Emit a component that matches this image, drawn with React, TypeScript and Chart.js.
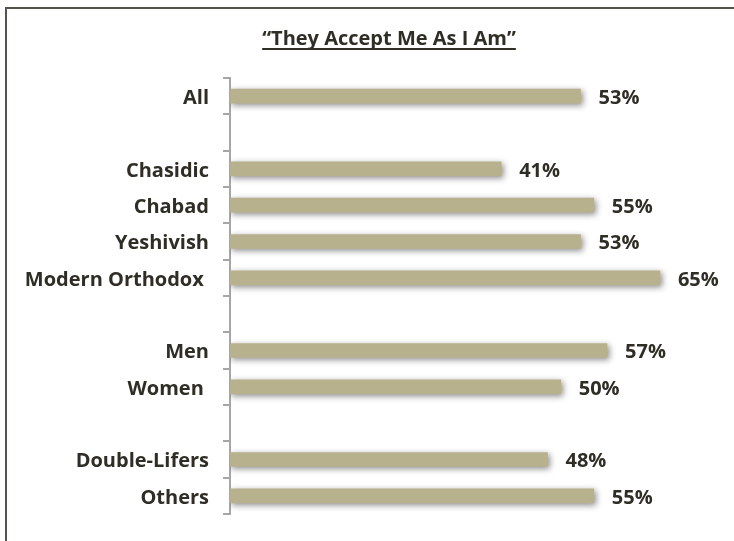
import React, { useEffect, useRef } from "react";
import { Chart, registerables } from "chart.js";

Chart.register(...registerables);

const TITLE = "\u201CThey Accept Me As I Am\u201D";
const categories = [
  "All",
  "",
  "Chasidic",
  "Chabad",
  "Yeshivish",
  "Modern Orthodox ",
  "",
  "Men",
  "Women ",
  "",
  "Double-Lifers",
  "Others",
];
const values: (number | null)[] = [53, null, 41, 55, 53, 65, null, 57, 50, null, 48, 55];

const FONT = "'Open Sans'";
const TEXT_COLOR = "#2f2d26";
const BAR_COLOR = "#b8b18e";

export default function App() {
  const ref = useRef<HTMLCanvasElement | null>(null);

  useEffect(() => {
    if (!ref.current) return;

    const framePlugin = {
      id: "frameTitle",
      beforeDraw(chart: any) {
        const ctx = chart.ctx;
        ctx.save();
        ctx.strokeStyle = "#55534a";
        ctx.lineWidth = 2;
        ctx.beginPath();
        ctx.moveTo(6, 541);
        ctx.lineTo(6, 8);
        ctx.lineTo(734, 8);
        ctx.stroke();
        ctx.font = `bold 20px ${FONT}`;
        ctx.fillStyle = TEXT_COLOR;
        ctx.textAlign = "center";
        ctx.textBaseline = "alphabetic";
        const cx = 389;
        ctx.fillText(TITLE, cx, 45);
        const w = ctx.measureText(TITLE).width;
        ctx.fillRect(cx - w / 2, 48, w, 2);
        ctx.restore();
      },
    };

    const shadowPlugin = {
      id: "barShadow",
      beforeDatasetsDraw(chart: any) {
        const ctx = chart.ctx;
        ctx.save();
        ctx.shadowColor = "rgba(0,0,0,0.45)";
        ctx.shadowBlur = 6;
        ctx.shadowOffsetX = 2;
        ctx.shadowOffsetY = 2;
      },
      afterDatasetsDraw(chart: any) {
        const ctx = chart.ctx;
        ctx.restore();
        ctx.save();
        ctx.font = `bold 20px ${FONT}`;
        ctx.fillStyle = TEXT_COLOR;
        ctx.textAlign = "left";
        ctx.textBaseline = "middle";
        const meta = chart.getDatasetMeta(0);
        meta.data.forEach((bar: any, i: number) => {
          const v = values[i];
          if (v === null || v === undefined) return;
          ctx.fillText(`${v}%`, bar.x + 18, bar.y + 2);
        });
        ctx.restore();
      },
    };

    const chart = new Chart(ref.current, {
      type: "bar",
      data: {
        labels: categories,
        datasets: [
          {
            data: values,
            backgroundColor: BAR_COLOR,
            borderWidth: 0,
            barThickness: 14,
          },
        ],
      },
      options: {
        indexAxis: "y",
        animation: false,
        responsive: false,
        devicePixelRatio: 1,
        layout: { padding: { top: 78, bottom: 27, left: 0, right: 41 } },
        plugins: {
          legend: { display: false },
          title: { display: false },
          tooltip: { enabled: false },
        },
        scales: {
          x: {
            display: false,
            min: 0,
            max: 70,
          },
          y: {
            afterFit(scale: any) {
              scale.width = 230;
            },
            grid: {
              offset: true,
              drawOnChartArea: false,
              drawTicks: true,
              tickLength: 7,
              tickColor: "#a6a6a6",
              lineWidth: 2,
            },
            border: { display: true, color: "#a6a6a6", width: 2 },
            ticks: {
              autoSkip: false,
              padding: 14,
              labelOffset: 2,
              color: TEXT_COLOR,
              font: { family: FONT, size: 20, weight: "bold" },
            },
          },
        },
      } as any,
      plugins: [framePlugin, shadowPlugin],
    });

    return () => chart.destroy();
  }, []);

  return (
    <div style={{ position: "absolute", left: 0, top: 0, width: 734, height: 541, background: "#fff" }}>
      <canvas ref={ref} width={734} height={541} style={{ display: "block" }} />
    </div>
  );
}
